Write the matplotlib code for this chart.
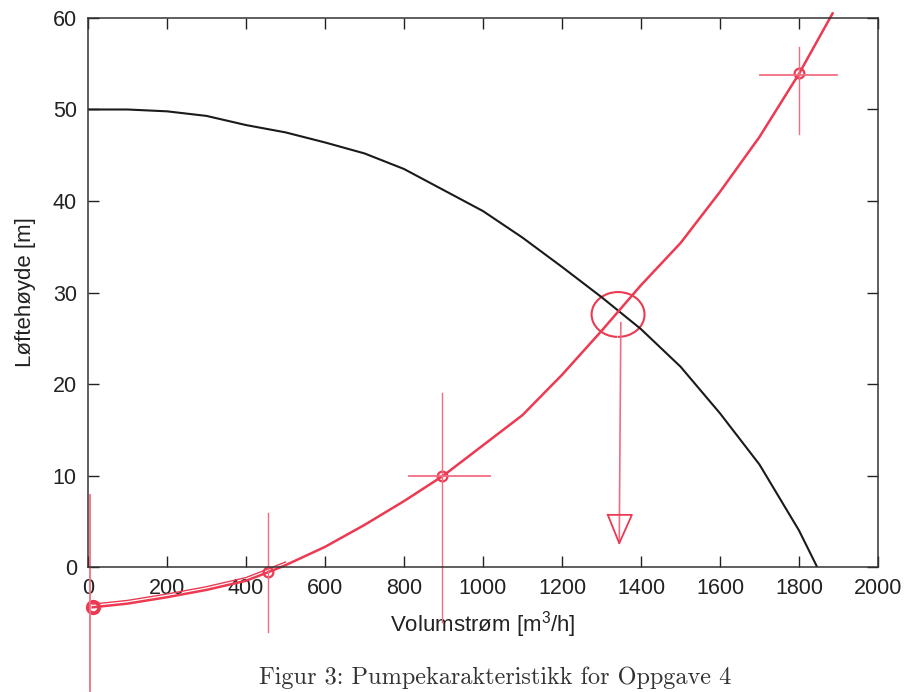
import matplotlib.pyplot as plt
import matplotlib.patches as mptch

plt.rcParams['font.family'] = ['Liberation Sans', 'DejaVu Sans']
plt.rcParams['mathtext.fontset'] = 'custom'
plt.rcParams['mathtext.rm'] = 'Liberation Sans'
plt.rcParams['mathtext.it'] = 'Liberation Sans'

# pump curve (printed, black)
pump_q = [0, 100, 200, 300, 400, 500, 600, 700, 800, 900, 1000, 1100, 1200,
          1300, 1400, 1500, 1600, 1700, 1800, 1846]
pump_h = [50, 50, 49.8, 49.3, 48.3, 47.5, 46.4, 45.2, 43.5, 41.2, 38.9, 36.0,
          32.8, 29.5, 26.0, 21.9, 16.8, 11.2, 4.0, 0]

# system curve (hand drawn, red)
sys_q = [12, 100, 200, 300, 400, 460, 500, 600, 700, 800, 900, 1000, 1100,
         1200, 1300, 1400, 1500, 1600, 1700, 1800, 1885]
sys_h = [-4.4, -4.0, -3.3, -2.5, -1.5, -0.5, 0.2, 2.2, 4.6, 7.2, 10.0, 13.3,
         16.6, 21.0, 25.8, 30.8, 35.4, 41.0, 47.0, 53.9, 60.5]

# hand marked points
mark_q = [12, 456, 896, 1800]
mark_h = [-4.4, -0.5, 9.9, 54.0]

# operating point
op_q = 1342
op_h = 27.6

xticks = list(range(0, 2001, 200))
yticks = list(range(0, 61, 10))

red = '#ec3a52'
pink = '#f26d82'

fig = plt.figure(figsize=(9.07, 6.92), dpi=100)
ax = fig.add_axes([0.0970, 0.1806, 0.8710, 0.7934])

ax.plot(pump_q, pump_h, color='#1a1a1a', lw=1.5)
ax.plot(sys_q, sys_h, color=red, lw=1.8, clip_on=False)
# second stroke at the start, drawn twice by hand
ax.plot(sys_q[:7], [h + 0.35 for h in sys_h[:7]], color=red, lw=1.0, clip_on=False)

ax.plot(mark_q, mark_h, 'o', ms=7, mfc='none', mec=red, mew=1.6, clip_on=False)
ax.plot(mark_q[0], mark_h[0], 'o', ms=9, mfc='none', mec=red, mew=2, clip_on=False)

# cross hairs through the marked points
ax.plot([5, 5], [7.9, -13.5], color=pink, lw=1.3, clip_on=False)
ax.plot([456, 456], [5.9, -7.1], color=pink, lw=1.0, clip_on=False)
ax.plot([896, 896], [19.0, -6.0], color=pink, lw=1.0, clip_on=False)
ax.plot([813, 1018], [10.0, 10.0], color=pink, lw=1.3)
ax.plot([1800, 1800], [56.8, 47.3], color=pink, lw=1.0)
ax.plot([1701, 1896], [53.8, 53.8], color=pink, lw=1.3)

# circle round the intersection and arrow down to the x axis
ax.add_patch(mptch.Arc((op_q, op_h), 134, 4.9, angle=0, theta1=-100, theta2=230,
                       color=red, lw=1.5))
ax.plot([op_q + 7, op_q + 3], [26.7, 2.6], color=pink, lw=1.2)
ax.plot([1316, 1377, 1345, 1316], [5.7, 5.7, 2.6, 5.7], color=red, lw=1.3)

ax.set_xlim(0, 2000)
ax.set_ylim(0, 60)
ax.set_xticks(xticks)
ax.set_yticks(yticks)
ax.tick_params(direction='in', length=8, width=1, top=True, right=True,
               labelsize=15.5, pad=8, colors='#222222')
for s in ax.spines.values():
    s.set_linewidth(1.1)
    s.set_color('#333333')

ax.set_xlabel('Volumstrøm [m$^3$/h]', fontsize=16, labelpad=7, color='#222222')
ax.set_ylabel('Løftehøyde [m]', fontsize=16, labelpad=12, color='#222222')

fig.text(0.546, 0.004, 'Figur 3: Pumpekarakteristikk for Oppgave 4',
         family=['cmr10', 'DejaVu Serif'], fontsize=17.5, ha='center', va='bottom',
         color='#333333')

fig.savefig('out.png', dpi=100)
